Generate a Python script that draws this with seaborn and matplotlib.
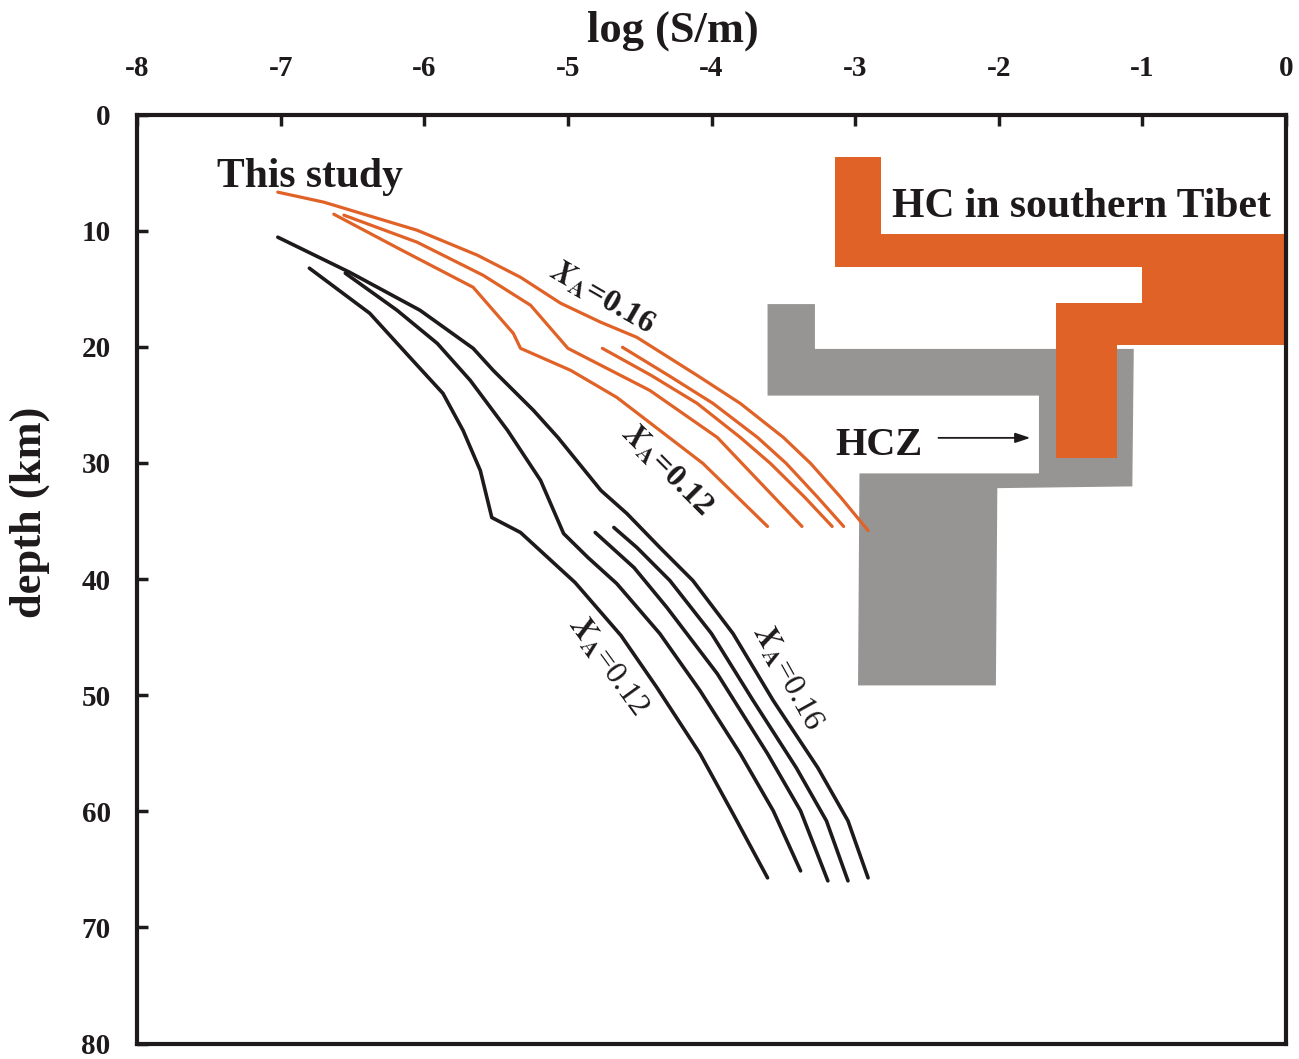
import numpy as np
import pandas as pd
import matplotlib
matplotlib.use("Agg")
import matplotlib.pyplot as plt
import seaborn as sns
from matplotlib.patches import Polygon

# ---------------- data (log conductivity, depth in km) ----------------
# orange model curves ("This study", upper set)
oA_x = [-7.02, -6.70, -6.05, -5.63, -5.33, -5.05, -4.77, -4.52, -4.10, -3.80, -3.50, -3.31, -3.10, -2.91]
oA_y = [6.68, 7.54, 9.96, 12.11, 14.01, 16.25, 17.89, 19.18, 22.46, 24.87, 27.80, 30.04, 32.97, 35.82]
oB_x = [-6.63, -6.17, -5.66, -5.38, -5.33, -4.98, -4.66, -4.06, -3.61]
oB_y = [8.58, 11.59, 14.87, 18.84, 20.13, 22.03, 24.35, 30.04, 35.47]
oC_x = [-6.56, -6.05, -5.59, -5.26, -5.00, -4.43, -3.96, -3.37]
oC_y = [8.66, 10.99, 13.84, 16.42, 20.13, 23.75, 27.80, 35.47]
oD_x = [-4.76, -4.42, -4.10, -3.80, -3.59, -3.35, -3.16]
oD_y = [20.13, 22.46, 24.87, 27.80, 30.04, 32.97, 35.47]
oE_x = [-4.62, -4.30, -3.99, -3.68, -3.48, -3.26, -3.08]
oE_y = [20.04, 22.46, 24.87, 27.80, 30.04, 32.97, 35.47]

# black model curves (lower set)
bF_x = [-7.02, -6.52, -6.03, -5.66, -5.52, -5.24, -5.07, -4.77, -4.59, -4.36, -4.13, -3.85, -3.57, -3.26, -3.05, -2.91]
bF_y = [10.56, 13.58, 16.85, 20.13, 22.03, 25.47, 27.80, 32.37, 34.35, 37.28, 40.13, 44.70, 50.47, 56.25, 60.82, 65.73]
bG_x = [-6.55, -6.19, -5.91, -5.68, -5.42, -5.19, -5.03, -4.86, -4.66, -4.36, -4.08, -3.80, -3.57, -3.38]
bG_y = [13.66, 16.85, 19.70, 22.89, 27.20, 31.51, 36.08, 38.15, 40.39, 44.70, 49.61, 55.04, 59.96, 65.13]
bH_x = [-6.80, -6.38, -6.10, -5.87, -5.73, -5.61, -5.53, -5.33, -4.95, -4.63, -4.38, -4.08, -3.85, -3.61]
bH_y = [13.23, 17.11, 20.91, 24.01, 27.20, 30.65, 34.70, 35.99, 40.30, 44.87, 49.35, 55.04, 60.22, 65.73]
bI_x = [-4.81, -4.54, -4.31, -3.96, -3.61, -3.38, -3.19]
bI_y = [35.99, 39.01, 42.46, 48.15, 55.04, 59.96, 65.99]
bJ_x = [-4.68, -4.52, -4.29, -4.00, -3.71, -3.41, -3.20, -3.05]
bJ_y = [35.56, 37.28, 40.13, 44.70, 50.47, 56.25, 60.82, 65.99]

# HC in southern Tibet (orange block outline)
hc_x = [-3.14, -2.82, -2.82, 0.0, 0.0, -1.18, -1.18, -1.60, -1.60, -1.00, -1.00, -3.14]
hc_y = [3.66, 3.66, 10.30, 10.30, 19.87, 19.87, 29.61, 29.61, 16.25, 16.25, 13.10, 13.10]
# HCZ (gray block outline)
hcz_x = [-3.61, -3.28, -3.28, -1.06, -1.07, -2.01, -2.02, -2.98, -2.97, -1.72, -1.72, -3.61]
hcz_y = [16.32, 16.32, 20.18, 20.18, 32.02, 32.17, 49.16, 49.16, 30.90, 30.90, 24.20, 24.20]

x_ticks = [-8, -7, -6, -5, -4, -3, -2, -1, 0]
y_ticks = [0, 10, 20, 30, 40, 50, 60, 70, 80]

ORANGE = "#E06227"
GRAY = "#969594"
INK = "#1e1a1b"

def long_df(curves):
    rows = []
    for name, xs, ys in curves:
        for i, (xv, yv) in enumerate(zip(xs, ys)):
            rows.append({"curve": name, "order": i, "logS": xv, "depth": yv})
    return pd.DataFrame(rows)

df_orange = long_df([("A", oA_x, oA_y), ("B", oB_x, oB_y), ("C", oC_x, oC_y),
                     ("D", oD_x, oD_y), ("E", oE_x, oE_y)])
df_black = long_df([("F", bF_x, bF_y), ("G", bG_x, bG_y), ("H", bH_x, bH_y),
                    ("I", bI_x, bI_y), ("J", bJ_x, bJ_y)])

# ---------------- style ----------------
sns.set_style("white")
plt.rcParams['font.family'] = ['Liberation Serif', 'DejaVu Serif']
plt.rcParams['mathtext.fontset'] = 'stix'
plt.rcParams['axes.unicode_minus'] = False
plt.rcParams['font.weight'] = 'bold'
plt.rcParams['axes.labelweight'] = 'bold'

fig = plt.figure(figsize=(12.99, 10.59), dpi=100)
ax = fig.add_axes([0.1055, 0.0146, 0.8845, 0.8772])

ax.add_patch(Polygon(np.column_stack([hcz_x, hcz_y]), closed=True, fc=GRAY, ec='none', zorder=1))
ax.add_patch(Polygon(np.column_stack([hc_x, hc_y]), closed=True, fc=ORANGE, ec='none', zorder=1.1))

sns.lineplot(data=df_orange, x="logS", y="depth", units="curve", estimator=None, sort=False,
             color=ORANGE, linewidth=2.3, ax=ax, legend=False, zorder=3)
sns.lineplot(data=df_black, x="logS", y="depth", units="curve", estimator=None, sort=False,
             color=INK, linewidth=2.6, ax=ax, legend=False, zorder=3)

ax.set_xlim(-8, 0)
ax.set_ylim(80, 0)
ax.xaxis.tick_top()
ax.xaxis.set_label_position('top')
ax.set_xticks(x_ticks)
ax.set_yticks(y_ticks)
ax.set_xticklabels([str(v) for v in x_ticks])
ax.set_yticklabels([str(v) for v in y_ticks])
ax.tick_params(axis='x', direction='in', length=8, width=2.5, labelsize=21, pad=23.5,
               top=True, bottom=False, colors=INK)
ax.tick_params(axis='y', direction='in', length=8, width=2.5, labelsize=21, pad=19,
               left=True, right=False, colors=INK)
for sp in ax.spines.values():
    sp.set_linewidth(3)
    sp.set_color(INK)
    sp.set_visible(True)

ax.set_xlabel("log (S/m)", fontsize=32, color=INK)
ax.set_ylabel("depth (km)", fontsize=32, color=INK)
ax.xaxis.set_label_coords(0.4665, 1.079)
ax.yaxis.set_label_coords(-0.0757, 0.572)

# ---------------- annotations ----------------
ax.text(-7.44, 6.25, "This study", fontsize=30, fontweight='bold', ha='left', va='baseline', color=INK)
ax.text(-2.74, 8.84, "HC in southern Tibet", fontsize=30, fontweight='bold', ha='left', va='baseline', color=INK)
ax.text(-3.14, 29.33, "HCZ", fontsize=29, fontweight='bold', ha='left', va='baseline', color=INK)
ax.annotate("", xy=(-1.78, 27.84), xytext=(-2.42, 27.84),
            arrowprops=dict(arrowstyle='-|>,head_length=0.9,head_width=0.3', lw=1.3, color=INK,
                            shrinkA=0, shrinkB=0))

ax.text(-4.76, 15.8, r"$X_{\mathrm{A}}$=0.16", fontsize=23, fontweight='bold', rotation=-30,
        rotation_mode='anchor', ha='center', va='center', color=INK)
ax.text(-4.31, 30.6, r"$X_{\mathrm{A}}$=0.12", fontsize=23, fontweight='bold', rotation=-45,
        rotation_mode='anchor', ha='center', va='center', color=INK)
ax.text(-4.72, 47.5, r"$X_{\mathrm{A}}$=0.12", fontsize=23, fontweight='normal', rotation=-54,
        rotation_mode='anchor', ha='center', va='center', color=INK)
ax.text(-3.47, 48.5, r"$X_{\mathrm{A}}$=0.16", fontsize=23, fontweight='normal', rotation=-61,
        rotation_mode='anchor', ha='center', va='center', color=INK)

fig.savefig("out.png", dpi=100)
